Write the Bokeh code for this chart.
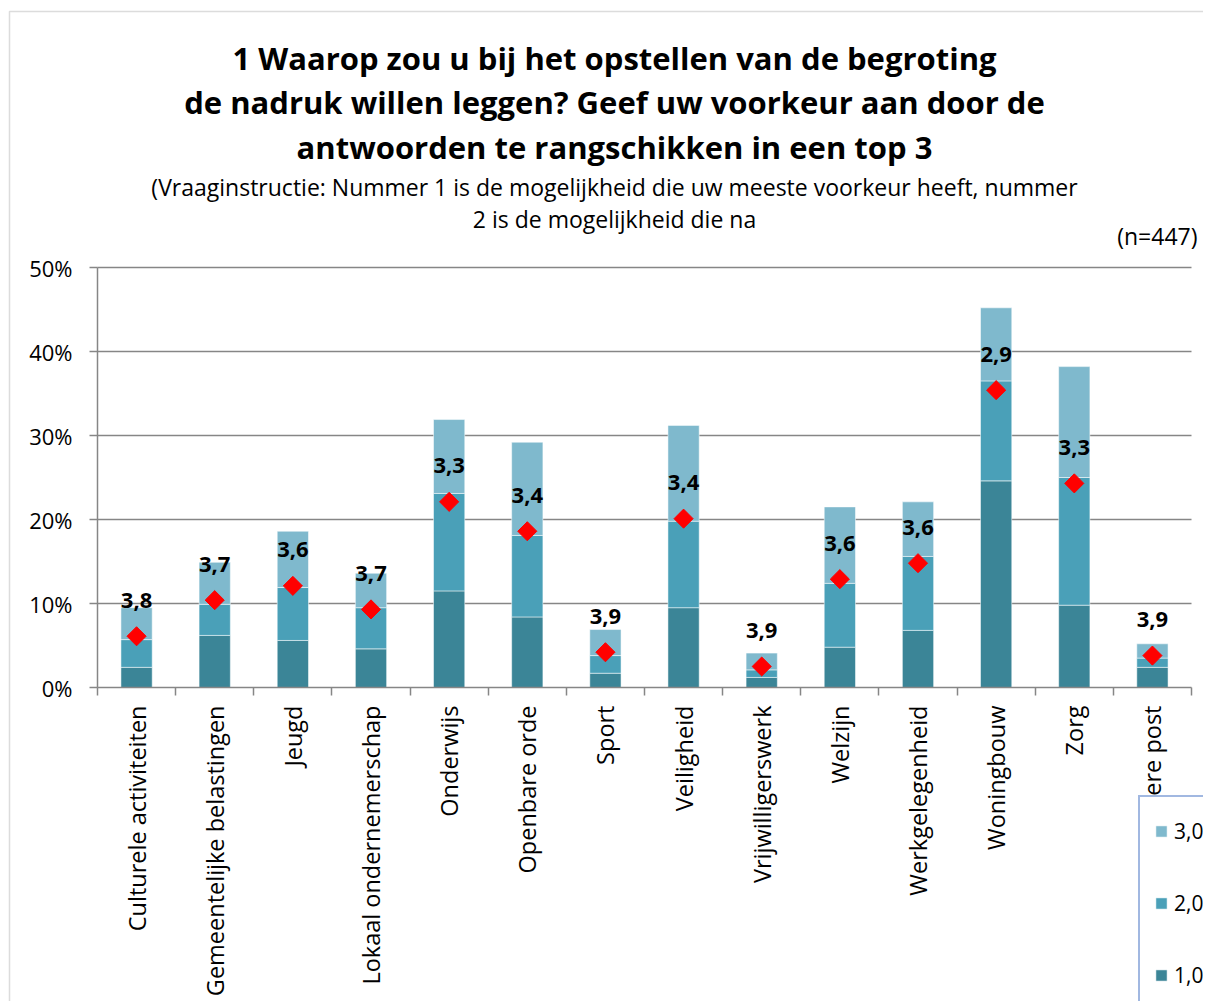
import numpy as np
from bokeh.plotting import figure
from bokeh.models import (ColumnDataSource, FixedTicker, PrintfTickFormatter, Label,
                          Legend, LegendItem, Range1d, BoxAnnotation)
from bokeh.core.properties import value
from bokeh.embed import file_html
from bokeh.resources import INLINE

# ---------------- data ----------------
categories = ["Culturele activiteiten", "Gemeentelijke belastingen", "Jeugd",
              "Lokaal ondernemerschap", "Onderwijs", "Openbare orde", "Sport",
              "Veiligheid", "Vrijwilligerswerk", "Welzijn", "Werkgelegenheid",
              "Woningbouw", "Zorg", "Andere post"]
rank1 = [2.4, 6.2, 5.6, 4.6, 11.5, 8.4, 1.7, 9.5, 1.2, 4.8, 6.8, 24.6, 9.8, 2.4]
rank2 = [3.3, 3.7, 6.3, 4.9, 11.6, 9.7, 2.1, 10.3, 0.9, 7.6, 8.8, 11.9, 15.2, 1.1]
rank3 = [3.8, 5.0, 6.7, 4.1, 8.8, 11.1, 3.1, 11.4, 2.0, 9.1, 6.5, 8.7, 13.2, 1.7]
marker_pos = [6.1, 10.4, 12.1, 9.3, 22.1, 18.6, 4.2, 20.1, 2.5, 12.9, 14.8, 35.4, 24.3, 3.8]
avg_score = [3.8, 3.7, 3.6, 3.7, 3.3, 3.4, 3.9, 3.4, 3.9, 3.6, 3.6, 2.9, 3.3, 3.9]
series_names = ["1,0", "2,0", "3,0"]
y_ticks = [0, 10, 20, 30, 40, 50]

title_lines = ["1 Waarop zou u bij het opstellen van de begroting",
               "de nadruk willen leggen? Geef uw voorkeur aan door de",
               "antwoorden te rangschikken in een top 3"]
subtitle_lines = ["(Vraaginstructie: Nummer 1 is de mogelijkheid die uw meeste voorkeur heeft, nummer",
                  "2 is de mogelijkheid die na"]
n_text = "(n=447)"

colors = ["#3B8597", "#4AA0B8", "#7FB9CD"]
FONT = "Open Sans"
GRAY = "#868686"

# ---------------- geometry (page pixels) ----------------
W, H = 1203, 1001
ncat = len(categories)
AX_LEFT, AX_RIGHT = 97, 1191      # plot area left/right
AX_BOTTOM, AX_TOP = 687, 267      # 0% and 50%
PX_PER_CAT = (AX_RIGHT - AX_LEFT) / ncat
PX_PER_PCT = (AX_BOTTOM - AX_TOP) / 50.0


def px2x(px):
    return -0.5 + (px - AX_LEFT) / PX_PER_CAT


def px2y(py):
    return (AX_BOTTOM - py) / PX_PER_PCT


x = np.arange(ncat)
src = ColumnDataSource(dict(
    x=x, r1=rank1, r2=rank2, r3=rank3, pos=marker_pos,
    lab=[f"{s:.1f}".replace(".", ",") for s in avg_score]))

p = figure(width=W, height=H,
           x_range=Range1d(px2x(0), px2x(W)), y_range=Range1d(px2y(H), px2y(0)),
           output_backend="svg", toolbar_location=None, min_border=0)
p.outline_line_color = None
p.background_fill_color = "white"
p.border_fill_color = "white"
p.xgrid.visible = False
p.ygrid.visible = False

# chart border
p.add_layout(BoxAnnotation(left=px2x(9), top=px2y(11), right=px2x(3000), bottom=px2y(3000),
                           fill_color=None, fill_alpha=0, line_color="#8C8C8C", line_width=1.5))

# gridlines
grid_y = [t for t in y_ticks if t > 0]
p.segment(x0=[-0.5] * len(grid_y), x1=[ncat - 0.5] * len(grid_y), y0=grid_y, y1=grid_y,
          line_color=GRAY, line_width=1.5, level="underlay")

bars = p.vbar_stack(["r1", "r2", "r3"], x="x", width=0.4, color=colors, source=src,
                    line_color="white", line_alpha=0.5, line_width=1)

p.scatter("x", "pos", marker="square", angle=np.pi / 4, size=13.5,
          fill_color="#FF0000", line_color="#FF0000", source=src)

p.text("x", "pos", text="lab", y_offset=-36, text_align="center", text_baseline="middle",
       text_font=value(FONT), text_font_style="bold", text_font_size="22px",
       text_color="black", source=src)

# ---------------- axes ----------------
ya = p.yaxis[0]
ya.fixed_location = -0.5
ya.bounds = (0, 50)
ya.ticker = FixedTicker(ticks=y_ticks)
ya.formatter = PrintfTickFormatter(format="%d%%")
ya.major_tick_in = 0
ya.major_tick_out = 8
ya.minor_tick_line_color = None
ya.axis_line_color = GRAY
ya.major_tick_line_color = GRAY
ya.axis_line_width = 1.5
ya.major_tick_line_width = 1.5
ya.major_label_text_font = FONT
ya.major_label_text_font_size = "22px"
ya.major_label_text_color = "black"
ya.major_label_standoff = 17

xa = p.xaxis[0]
xa.fixed_location = 0
xa.bounds = (-0.5, ncat - 0.5)
xa.ticker = FixedTicker(ticks=[float(v) for v in x],
                        minor_ticks=[float(v) - 0.5 for v in range(ncat + 1)])
xa.major_label_overrides = {int(i): c for i, c in enumerate(categories)}
xa.major_label_orientation = np.pi / 2
xa.major_tick_line_color = None
xa.major_tick_in = 0
xa.major_tick_out = 8
xa.minor_tick_in = 0
xa.minor_tick_out = 8
xa.minor_tick_line_color = GRAY
xa.minor_tick_line_width = 1.5
xa.axis_line_color = GRAY
xa.axis_line_width = 1.5
xa.major_label_text_font = FONT
xa.major_label_text_font_size = "23.5px"
xa.major_label_text_color = "black"
xa.major_label_standoff = 10

# ---------------- titles ----------------
for line, py in zip(title_lines, [57, 101, 146]):
    p.add_layout(Label(x=px2x(614), y=px2y(py), text=line, text_align="center",
                       text_baseline="middle", text_font=FONT, text_font_style="bold",
                       text_font_size="31px", text_color="black"))
for line, py in zip(subtitle_lines, [186, 218]):
    p.add_layout(Label(x=px2x(614), y=px2y(py), text=line, text_align="center",
                       text_baseline="middle", text_font=FONT,
                       text_font_size="23px", text_color="black"))
p.add_layout(Label(x=px2x(1197), y=px2y(235), text=n_text, text_align="right",
                   text_baseline="middle", text_font=FONT,
                   text_font_size="23px", text_color="black"))

# ---------------- legend ----------------
LEG_H = 217
legend = Legend(items=[LegendItem(label=series_names[i], renderers=[bars[i]]) for i in (2, 1, 0)],
                location=(1138, H - 794 - LEG_H), orientation="vertical",
                border_line_color="#4472C4", border_line_width=2,
                background_fill_color="white", background_fill_alpha=1.0,
                glyph_width=14, glyph_height=14, label_height=40, spacing=32,
                padding=14, margin=0, label_standoff=6,
                label_text_font=FONT, label_text_font_size="21px",
                label_text_color="black")
p.add_layout(legend, "center")

open("out.html", "w").write(file_html(p, INLINE))
